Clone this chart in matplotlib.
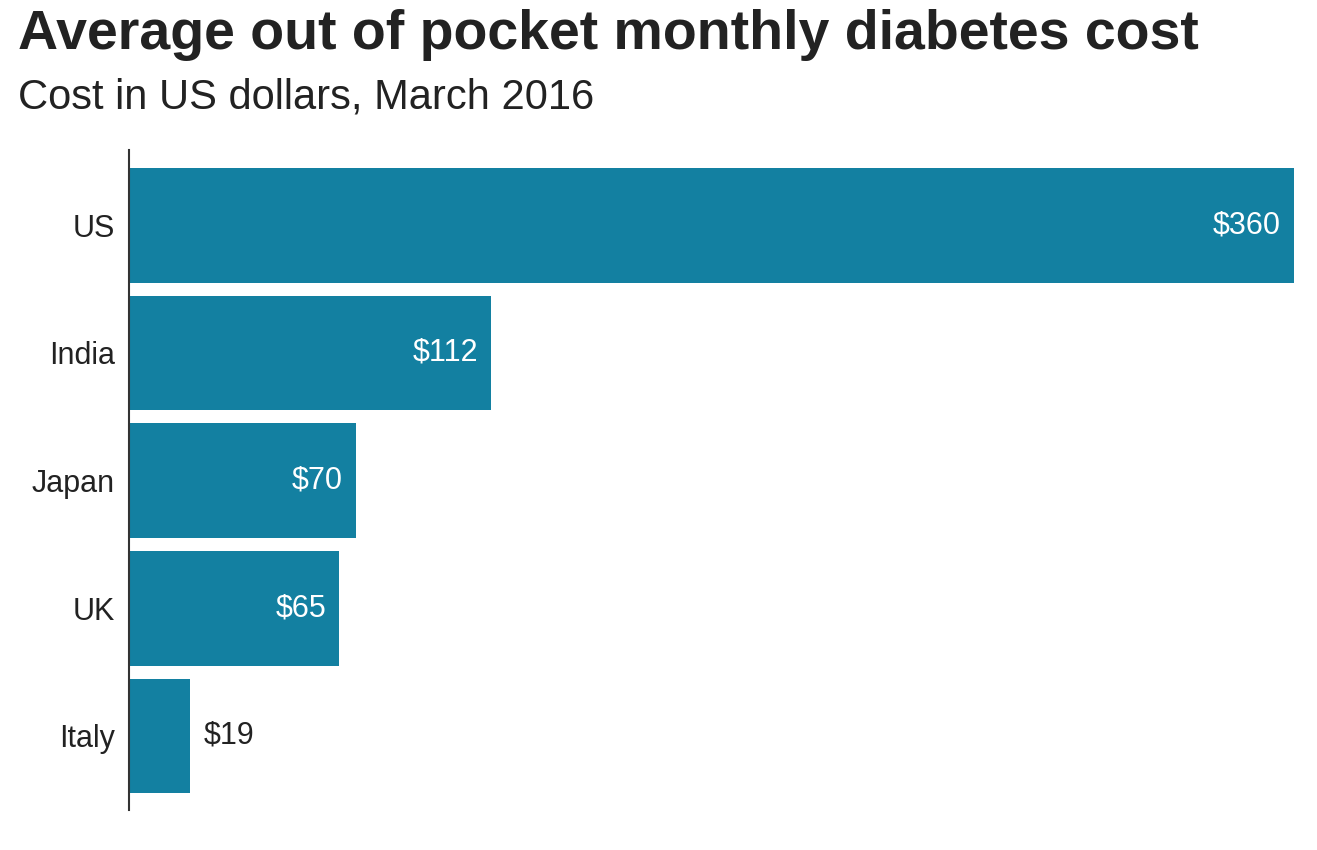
import matplotlib.pyplot as plt

plt.rcParams['font.family'] = ['Liberation Sans', 'DejaVu Sans']

countries = ["US", "India", "Japan", "UK", "Italy"]
costs = [360, 112, 70, 65, 19]
bar_color = "#1380A1"

fig = plt.figure(figsize=(13.17, 8.5), dpi=100)
ax = fig.add_axes([129 / 1317, 40 / 850, (1294 - 129) / 1317, 660 / 850])

ypos = list(range(len(countries)))
ax.barh(ypos, costs, height=0.9, color=bar_color)
ax.set_xlim(0, 360)
ax.set_ylim(4.58, -0.59)
ax.set_yticks(ypos)
ax.set_yticklabels(countries, fontsize=22, color="#222222")
ax.tick_params(axis="y", length=0, pad=10)
ax.set_xticks([])
for s in ["top", "right", "bottom"]:
    ax.spines[s].set_visible(False)
ax.spines["left"].set_color("#333333")
ax.spines["left"].set_linewidth(1.5)

for y, v in zip(ypos, costs):
    if v > 40:
        ax.text(v - 4, y, f"${v}", ha="right", va="center", fontsize=22, color="white")
    else:
        ax.text(v + 4, y, f"${v}", ha="left", va="center", fontsize=22, color="#222222")

fig.text(18 / 1317, 1 - 35 / 850, "Average out of pocket monthly diabetes cost",
         fontsize=40, fontweight="bold", color="#222222", va="center")
fig.text(18 / 1317, 1 - 98 / 850, "Cost in US dollars, March 2016",
         fontsize=30, color="#222222", va="center")

fig.savefig("out.png", dpi=100, facecolor="white")
